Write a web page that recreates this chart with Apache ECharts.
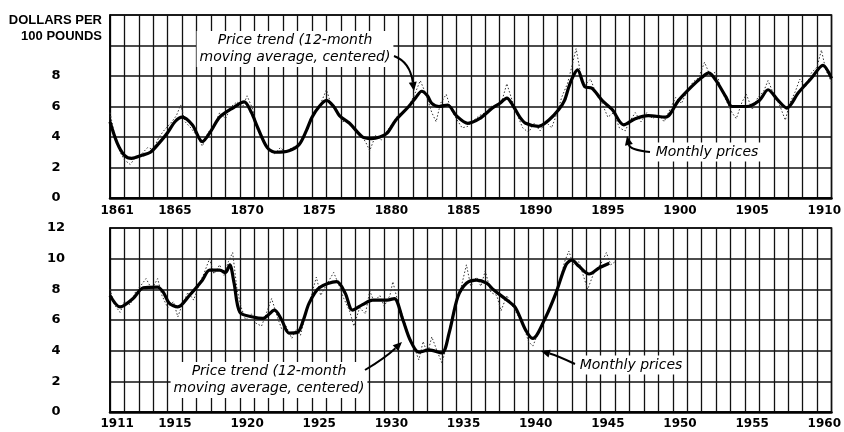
<!DOCTYPE html>
<html><head><meta charset="utf-8">
<script src="https://cdn.jsdelivr.net/npm/echarts@6/dist/echarts.min.js"></script>
<style>html,body{margin:0;padding:0;background:#fff}#c{width:844px;height:432px}</style>
</head><body><div id="c"></div>
<script>
// Panel periods
const startTop = 1861;
const startBottom = 1911;
const yTicksTopMax = 8;
const yTicksBottomMax = 12;

// 12-month moving average (price trend), [year, dollars per 100 lb]
const trendTop = [[1861.0,5.0],[1861.5,3.6],[1862.0,2.8],[1862.5,2.6],[1863.2,2.8],[1863.8,3.0],[1864.4,3.6],[1865.0,4.3],[1865.5,5.0],[1866.0,5.3],[1866.7,4.8],[1867.4,3.7],[1868.0,4.4],[1868.6,5.3],[1869.5,5.9],[1870.3,6.3],[1870.8,5.6],[1871.2,4.7],[1871.9,3.3],[1872.5,3.0],[1873.4,3.1],[1874.1,3.5],[1874.6,4.4],[1875.0,5.3],[1875.5,6.0],[1876.0,6.4],[1876.5,6.0],[1876.9,5.4],[1877.6,4.9],[1878.5,4.0],[1879.1,3.9],[1879.7,4.0],[1880.2,4.25],[1880.8,5.1],[1881.7,6.0],[1882.2,6.6],[1882.6,7.0],[1883.0,6.7],[1883.3,6.2],[1883.8,6.0],[1884.4,6.1],[1885.0,5.4],[1885.8,4.9],[1886.6,5.2],[1887.5,5.9],[1888.0,6.2],[1888.5,6.55],[1888.9,6.1],[1889.4,5.3],[1889.8,4.9],[1890.7,4.7],[1891.4,5.1],[1892.1,5.8],[1892.5,6.4],[1892.8,7.3],[1893.1,8.0],[1893.4,8.4],[1893.9,7.3],[1894.4,7.2],[1895.1,6.4],[1895.8,5.8],[1896.6,4.8],[1897.4,5.2],[1898.3,5.4],[1899.5,5.3],[1900.4,6.4],[1901.3,7.3],[1902.0,7.9],[1902.5,8.2],[1903.0,7.7],[1903.7,6.6],[1904.1,6.0],[1905.1,6.0],[1906.0,6.4],[1906.6,7.1],[1907.3,6.4],[1907.9,5.9],[1908.7,6.9],[1909.6,7.85],[1910.4,8.7],[1911.0,7.85]];
const trendBottom = [[1911.0,7.6],[1911.7,6.85],[1912.6,7.4],[1913.3,8.1],[1914.3,8.15],[1914.7,7.8],[1915.1,7.1],[1915.7,6.85],[1916.5,7.6],[1917.4,8.6],[1917.9,9.25],[1918.6,9.25],[1919.0,9.1],[1919.3,9.6],[1919.6,8.4],[1920.0,6.5],[1920.9,6.2],[1921.6,6.1],[1922.4,6.65],[1922.9,6.0],[1923.4,5.15],[1924.0,5.2],[1924.4,6.0],[1924.8,7.1],[1925.5,8.1],[1926.7,8.5],[1927.3,7.75],[1927.8,6.65],[1928.5,7.0],[1929.2,7.3],[1930.2,7.3],[1930.7,7.4],[1931.3,6.0],[1931.8,4.7],[1932.4,3.9],[1933.1,4.05],[1934.0,3.85],[1934.5,5.15],[1935.1,7.5],[1935.7,8.4],[1936.4,8.6],[1937.1,8.4],[1937.6,7.95],[1938.5,7.3],[1939.1,6.8],[1939.8,5.35],[1940.3,4.8],[1941.2,6.2],[1941.9,7.75],[1942.6,9.6],[1943.0,9.9],[1943.5,9.5],[1944.2,9.0],[1944.9,9.4],[1945.6,9.7]];

// Monthly prices, [year, dollars per 100 lb]
const monthlyTop = [[1861.0,5.6],[1861.3,4.2],[1861.7,3.0],[1862.0,2.5],[1862.4,2.2],[1862.8,2.7],[1863.2,2.9],[1863.6,3.3],[1864.0,3.2],[1864.4,4.0],[1864.8,4.5],[1865.2,4.9],[1865.6,5.4],[1865.9,6.1],[1866.2,5.0],[1866.6,4.6],[1867.0,4.1],[1867.4,3.4],[1867.8,4.3],[1868.2,4.7],[1868.6,5.6],[1869.0,5.2],[1869.4,6.0],[1869.8,6.3],[1870.2,6.0],[1870.5,6.7],[1870.9,5.8],[1871.2,4.5],[1871.6,3.8],[1872.0,3.1],[1872.4,2.9],[1872.8,3.3],[1873.2,3.0],[1873.6,3.3],[1874.0,3.4],[1874.4,4.0],[1874.8,4.9],[1875.2,5.6],[1875.6,6.2],[1876.0,7.1],[1876.3,6.2],[1876.7,5.8],[1877.1,5.0],[1877.5,5.1],[1877.9,4.5],[1878.3,4.2],[1878.7,3.7],[1879.0,3.1],[1879.4,4.1],[1879.8,3.8],[1880.2,4.4],[1880.6,4.9],[1881.0,5.5],[1881.4,5.7],[1881.8,6.2],[1882.2,7.0],[1882.5,7.7],[1882.9,6.8],[1883.3,5.6],[1883.6,5.0],[1883.9,6.2],[1884.3,6.8],[1884.6,5.9],[1885.0,5.2],[1885.4,4.6],[1885.8,4.7],[1886.2,5.1],[1886.6,5.4],[1887.0,5.6],[1887.4,6.0],[1887.8,6.1],[1888.2,6.5],[1888.5,7.5],[1888.8,6.6],[1889.2,5.5],[1889.6,4.6],[1890.0,4.3],[1890.4,4.9],[1890.8,4.4],[1891.2,5.0],[1891.6,4.6],[1892.0,5.6],[1892.3,6.6],[1892.7,7.5],[1893.0,8.6],[1893.3,9.8],[1893.6,8.2],[1893.9,7.4],[1894.3,7.8],[1894.7,6.8],[1895.1,6.2],[1895.5,5.3],[1895.9,5.6],[1896.3,4.6],[1896.7,4.4],[1897.0,5.0],[1897.4,5.6],[1897.8,5.0],[1898.2,5.6],[1898.6,5.2],[1899.0,5.5],[1899.4,5.0],[1899.8,5.8],[1900.2,6.6],[1900.6,6.2],[1901.0,7.0],[1901.4,7.6],[1901.8,7.9],[1902.2,8.9],[1902.6,8.0],[1903.0,8.3],[1903.4,7.0],[1903.8,6.2],[1904.1,5.6],[1904.4,5.2],[1904.8,6.3],[1905.1,6.8],[1905.5,5.8],[1905.9,6.6],[1906.3,7.0],[1906.6,7.7],[1907.0,6.8],[1907.4,6.1],[1907.8,5.1],[1908.1,6.2],[1908.5,7.0],[1908.8,7.8],[1909.2,7.3],[1909.6,8.2],[1910.0,8.6],[1910.3,9.7],[1910.6,8.4],[1911.0,7.6]];
const monthlyBottom = [[1911.0,8.0],[1911.3,7.0],[1911.7,6.5],[1912.0,7.2],[1912.4,7.0],[1912.8,7.9],[1913.1,8.2],[1913.5,8.7],[1913.9,8.0],[1914.3,8.7],[1914.6,7.6],[1915.0,6.8],[1915.4,7.2],[1915.7,6.2],[1916.0,7.0],[1916.4,7.8],[1916.8,7.3],[1917.2,8.4],[1917.5,9.0],[1917.9,10.0],[1918.2,9.0],[1918.6,9.6],[1918.9,8.9],[1919.2,9.8],[1919.5,10.4],[1919.8,8.0],[1920.1,6.8],[1920.4,6.0],[1920.8,6.4],[1921.1,5.8],[1921.5,5.6],[1921.9,6.6],[1922.2,7.4],[1922.6,6.2],[1922.9,5.4],[1923.2,5.6],[1923.6,4.8],[1923.9,5.4],[1924.2,5.0],[1924.6,6.6],[1924.9,7.4],[1925.3,8.8],[1925.6,7.6],[1926.0,8.3],[1926.5,9.1],[1926.9,8.2],[1927.2,7.4],[1927.6,6.6],[1927.9,5.6],[1928.3,6.8],[1928.7,6.4],[1929.0,7.9],[1929.3,7.2],[1929.7,7.6],[1930.0,6.9],[1930.4,7.6],[1930.6,8.5],[1931.0,7.0],[1931.3,6.2],[1931.7,5.0],[1932.0,4.4],[1932.4,3.4],[1932.7,4.6],[1933.0,3.8],[1933.3,4.9],[1933.7,3.9],[1934.0,3.2],[1934.3,4.2],[1934.6,5.8],[1935.0,7.2],[1935.3,8.0],[1935.7,9.6],[1936.0,8.2],[1936.4,8.8],[1936.7,8.2],[1937.0,9.2],[1937.4,7.8],[1937.8,7.6],[1938.1,6.6],[1938.5,7.6],[1938.9,6.9],[1939.2,6.4],[1939.6,5.8],[1940.0,4.6],[1940.3,4.3],[1940.7,5.2],[1941.0,5.8],[1941.4,6.6],[1941.8,7.4],[1942.2,8.6],[1942.5,9.8],[1942.8,10.5],[1943.1,9.6],[1943.5,9.8],[1943.8,8.9],[1944.1,8.0],[1944.5,9.0],[1944.8,9.4],[1945.1,9.8],[1945.4,10.4],[1945.7,9.6],[1946.0,9.8]];

const labelFont = {color:'#000', fontFamily:'"DejaVu Sans", sans-serif', fontWeight:'bold'};

function xAxisFor(gridIndex, start, margin){
  return {type:'value', gridIndex, min:start, max:start+50, interval:0.5,
    axisLine:{show:true, onZero:false, lineStyle:{color:'#000', width:2.5}},
    axisTick:{show:false},
    splitLine:{show:true, lineStyle:{color:['#111','rgba(0,0,0,0)'], width:1.3}},
    axisLabel:Object.assign({margin, fontSize:12, showMinLabel:true, showMaxLabel:true,
      formatter:v=>{const y=Math.floor(v); if (Math.abs(v-y-0.5)>1e-6) return ''; return (y===start||y%5===0)?String(y):'';}}, labelFont)
  };
}
function yAxisFor(gridIndex, maxLabel){
  return {type:'value', gridIndex, min:0, max:12, interval:2,
    axisLine:{show:true, lineStyle:{color:'#000', width:1.5}},
    axisTick:{show:false},
    splitLine:{show:true, lineStyle:{color:'#111', width:1.5}},
    axisLabel:Object.assign({margin:54, fontSize:13, align:'center', formatter:v=> v<=maxLabel?String(v):''}, labelFont)
  };
}

function arrow(x0,y0,cx,cy,x1,y1){
  const dx=x1-cx, dy=y1-cy, L=Math.hypot(dx,dy), ux=dx/L, uy=dy/L, px=-uy, py=ux;
  const bx=x1-ux*9, by=y1-uy*9;
  return [
    {type:'bezierCurve', z:100, shape:{x1:x0,y1:y0,cpx1:cx,cpy1:cy,x2:bx,y2:by}, style:{stroke:'#000', lineWidth:2, fill:null}},
    {type:'polygon', z:100, shape:{points:[[x1,y1],[bx+px*4,by+py*4],[bx-px*4,by-py*4]]}, style:{fill:'#000'}}
  ];
}
function note(x,y,text){
  return {type:'text', z:100, x, y, style:{text, fontFamily:'"DejaVu Sans", sans-serif', fontStyle:'italic', fontSize:14, lineHeight:17, fill:'#000',
    align:'center', textAlign:'center', verticalAlign:'middle', textVerticalAlign:'middle', backgroundColor:'#fff', padding:[1,3]}};
}

const chart = echarts.init(document.getElementById('c'));
chart.setOption({
  animation:false,
  backgroundColor:'#fff',
  grid:[
    {left:110, top:15, width:723, height:183, show:true, borderColor:'#000', borderWidth:1.5},
    {left:110, top:228, width:724, height:184, show:true, borderColor:'#000', borderWidth:1.5}
  ],
  xAxis:[xAxisFor(0,startTop,7), xAxisFor(1,startBottom,6)],
  yAxis:[yAxisFor(0,yTicksTopMax), yAxisFor(1,yTicksBottomMax)],
  series:[
    {type:'line', xAxisIndex:0, yAxisIndex:0, data:monthlyTop, symbol:'none', z:3, lineStyle:{color:'#333', width:1, type:[1.5,2]}},
    {type:'line', xAxisIndex:0, yAxisIndex:0, data:trendTop, symbol:'none', smooth:0.3, z:4, lineStyle:{color:'#000', width:3.2}},
    {type:'line', xAxisIndex:1, yAxisIndex:1, data:monthlyBottom, symbol:'none', z:3, lineStyle:{color:'#333', width:1, type:[1.5,2]}},
    {type:'line', xAxisIndex:1, yAxisIndex:1, data:trendBottom, symbol:'none', smooth:0.3, z:4, lineStyle:{color:'#000', width:3.2}}
  ],
  graphic:[
    {type:'text', z:100, x:102, y:28, style:{text:'DOLLARS PER\n100 POUNDS', fontFamily:'"Liberation Sans", Arial, sans-serif', fontWeight:'bold', fontSize:13, lineHeight:16, fill:'#000',
      align:'right', textAlign:'right', verticalAlign:'middle', textVerticalAlign:'middle'}},
    note(295,49,'Price trend (12-month\nmoving average, centered)'),
    note(707,152,'Monthly prices'),
    note(269,380,'Price trend (12-month\nmoving average, centered)'),
    note(631,365,'Monthly prices'),
    ...arrow(394,56,410,62,414,91),
    ...arrow(650,152,630,150,627,136),
    ...arrow(365,370,385,358,402,342),
    ...arrow(575,364,558,356,541,351)
  ]
});
</script></body></html>
